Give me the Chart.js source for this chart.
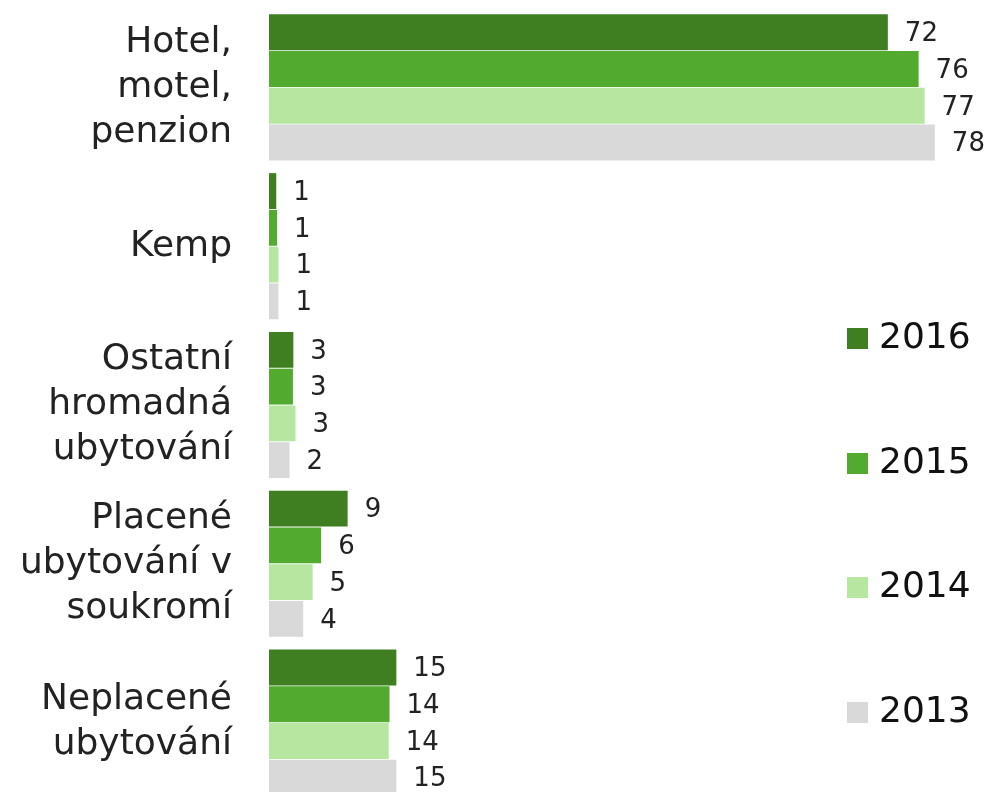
<!DOCTYPE html>
<html>
<head>
<meta charset="utf-8">
<script src="https://cdn.jsdelivr.net/npm/chart.js@4"></script>
<style>
  html, body { margin: 0; padding: 0; background: #fff; overflow: hidden; }
  #wrap { position: relative; width: 987px; height: 802px; }
</style>
</head>
<body>
<div id="wrap"><canvas id="c" width="987" height="802"></canvas></div>
<script>
const categories = [
  ['Hotel,', 'motel,', 'penzion'],
  ['Kemp'],
  ['Ostatní', 'hromadná', 'ubytování'],
  ['Placené', 'ubytování v', 'soukromí'],
  ['Neplacené', 'ubytování'],
];
const years = ['2016', '2015', '2014', '2013'];
const colors = ['#3f7f22', '#52ab2e', '#b6e6a0', '#d9d9d9'];
const v2016 = [72.4, 0.85, 2.85, 9.2, 14.9];
const v2015 = [76.0, 0.95, 2.8, 6.1, 14.1];
const v2014 = [76.7, 1.1, 3.1, 5.1, 14.0];
const v2013 = [77.9, 1.1, 2.4, 4.0, 14.9];
const series = [v2016, v2015, v2014, v2013];

const FONT = 'DejaVu Sans, Verdana, sans-serif';

// value labels at the end of each bar
const barLabels = {
  id: 'barLabels',
  afterDatasetsDraw(chart) {
    const ctx = chart.ctx;
    ctx.save();
    ctx.font = '26px ' + FONT;
    ctx.fillStyle = '#222';
    ctx.textAlign = 'left';
    ctx.textBaseline = 'middle';
    chart.data.datasets.forEach((ds, di) => {
      chart.getDatasetMeta(di).data.forEach((bar, i) => {
        ctx.fillText(String(Math.round(ds.data[i])), bar.x + 17, bar.y + 2);
      });
    });
    ctx.restore();
  }
};

// vertical legend spread down the right side
const sideLegend = {
  id: 'sideLegend',
  afterDraw(chart) {
    const ctx = chart.ctx;
    const ys = [338, 463, 587, 712];
    ctx.save();
    ctx.font = '36px ' + FONT;
    ctx.textAlign = 'left';
    ctx.textBaseline = 'middle';
    chart.data.datasets.forEach((ds, di) => {
      const y = ys[di];
      ctx.fillStyle = ds.backgroundColor;
      ctx.fillRect(847, y - 10, 21, 21);
      ctx.fillStyle = '#111';
      ctx.fillText(ds.label, 879, y + 1);
    });
    ctx.restore();
  }
};

new Chart(document.getElementById('c'), {
  type: 'bar',
  data: {
    labels: categories,
    datasets: years.map((y, i) => ({
      label: y,
      data: series[i],
      backgroundColor: colors[i],
      borderWidth: 0,
      barPercentage: 0.975,
      categoryPercentage: 0.926,
      clip: false,
    })),
  },
  options: {
    indexAxis: 'y',
    responsive: false,
    animation: false,
    layout: { padding: { top: 8, right: 0, bottom: 0, left: 0 } },
    plugins: {
      legend: { display: false },
      tooltip: { enabled: false },
    },
    scales: {
      x: {
        display: false,
        min: 0,
        max: 84,
      },
      y: {
        grid: { display: false, drawTicks: false, tickLength: 0 },
        border: { display: false },
        ticks: {
          color: '#222',
          padding: 37,
          font: { family: FONT, size: 36, lineHeight: 1.25 },
        },
        afterFit(scale) {
          scale.width = 269;
          // multi-line labels would otherwise pad the axis top/bottom
          scale.paddingTop = 0;
          scale.paddingBottom = 0;
        },
      },
    },
  },
  plugins: [barLabels, sideLegend],
});
</script>
</body>
</html>
